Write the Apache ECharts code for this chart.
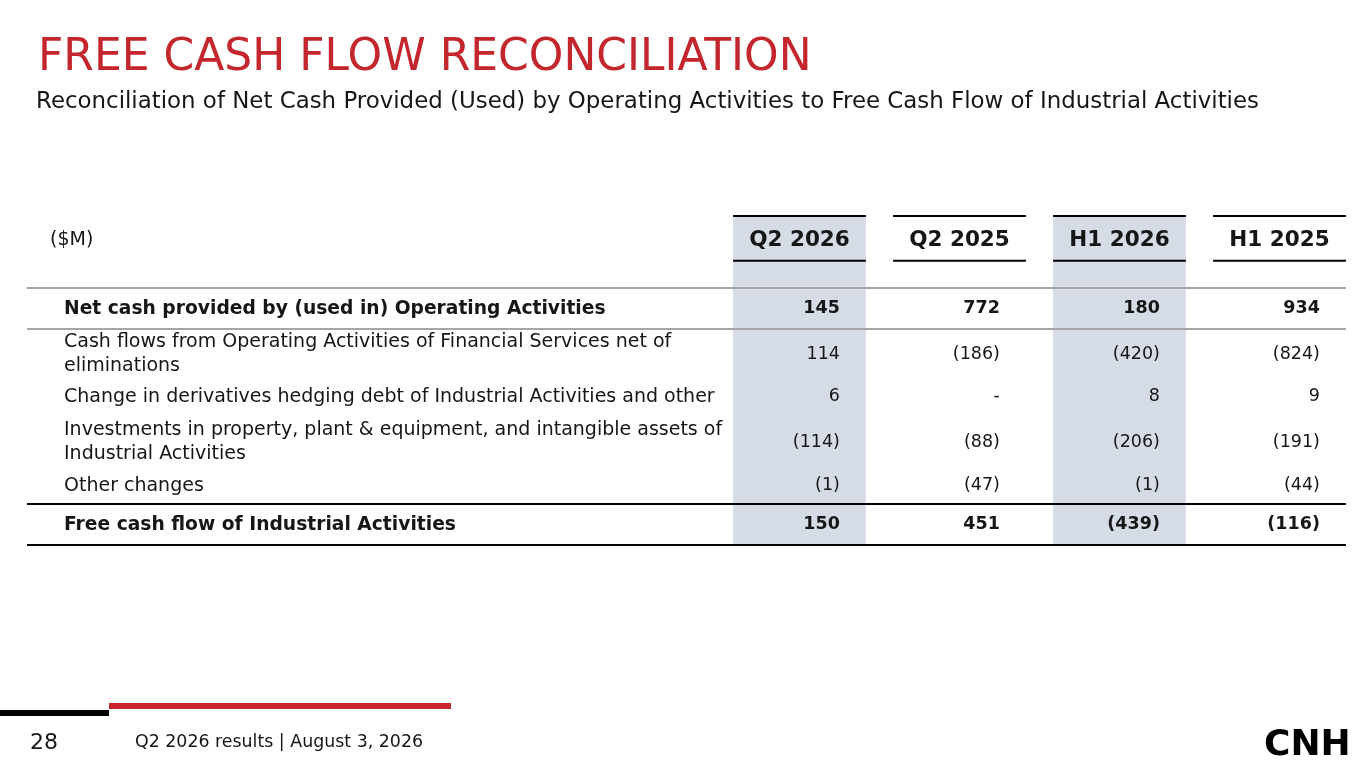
<!DOCTYPE html>
<html>
<head>
<meta charset="utf-8">
<script src="https://cdn.jsdelivr.net/npm/echarts@6/dist/echarts.min.js"></script>
<style>
  html, body { margin: 0; padding: 0; background: #fff; }
  #chart-container { width: 1365px; height: 768px; }
</style>
</head>
<body>
<div id="chart-container"></div>
<script>
// Table data
var columns = ['Q2 2026', 'Q2 2025', 'H1 2026', 'H1 2025'];
var shadedColumns = ['Q2 2026', 'H1 2026'];
var rowLabels = [
	'Net cash provided by (used in) Operating Activities',
	'Cash flows from Operating Activities of Financial Services net of\neliminations',
	'Change in derivatives hedging debt of Industrial Activities and other',
	'Investments in property, plant & equipment, and intangible assets of\nIndustrial Activities',
	'Other changes',
	'Free cash flow of Industrial Activities'
];
var q2_2026 = [145, 114, 6, -114, -1, 150];
var q2_2025 = [772, -186, null, -88, -47, 451];
var h1_2026 = [180, -420, 8, -206, -1, -439];
var h1_2025 = [934, -824, 9, -191, -44, -116];
var values = [q2_2026, q2_2025, h1_2026, h1_2025];

// Layout (axis units, y grows downward)
var HEADER_TOP = -2.13;
var HEADER_BOTTOM = -1.09;
var HEADER_MID = -1.56;
var TABLE_BOTTOM = 5.5;
var ROW_POS = [0.02, 1.07, 2.06, 3.12, 4.13, 5.03];
var ROW_LINES = [[-0.46, '#a6a6a6'], [0.49, '#a6a6a6'], [4.55, '#000'], [5.5, '#000']];
var boldRows = [0, 5];

var FONT = '"DejaVu Sans", Verdana, sans-serif';
var TEXT_COLOR = '#161616';
var RED = '#c4262e';

function fmt(v) {
	if (v === null || v === undefined) return '-';
	return v < 0 ? '(' + Math.abs(v) + ')' : String(v);
}

var dom = document.getElementById('chart-container');
var myChart = echarts.init(dom, null, { renderer: 'canvas' });

function colBox(api, j) {
	var c = api.coord([j, 0]);
	var w = api.size([1, 0])[0] * 0.83;
	return { cx: c[0], left: c[0] - w / 2, right: c[0] + w / 2, w: w };
}

var option = {
	animation: false,
	grid: { left: 719.5, width: 640, top: 216, height: 329 },
	xAxis: { type: 'category', data: columns, show: false },
	yAxis: { type: 'value', inverse: true, min: HEADER_TOP, max: TABLE_BOTTOM, show: false },
	graphic: [
		{ type: 'text', left: 38, top: 37, style: { text: 'FREE CASH FLOW RECONCILIATION', fill: RED, font: 'normal 44px ' + FONT } },
		{ type: 'text', left: 36, top: 91, style: { text: 'Reconciliation of Net Cash Provided (Used) by Operating Activities to Free Cash Flow of Industrial Activities', fill: TEXT_COLOR, font: 'normal 22.9px ' + FONT } },
		{ type: 'text', left: 50, top: 231, style: { text: '($M)', fill: TEXT_COLOR, font: 'normal 19px ' + FONT } },
		{ type: 'rect', shape: { x: 0, y: 710, width: 109, height: 6 }, style: { fill: '#000' } },
		{ type: 'rect', shape: { x: 109, y: 703, width: 342, height: 6 }, style: { fill: '#c8262c' } },
		{ type: 'text', left: 30, top: 732, style: { text: '28', fill: TEXT_COLOR, font: 'normal 22px ' + FONT } },
		{ type: 'text', left: 135, top: 734, style: { text: 'Q2 2026 results | August 3, 2026', fill: TEXT_COLOR, font: 'normal 17.4px ' + FONT } },
		{ type: 'text', left: 1264, top: 728, style: { text: 'CNH', fill: '#000', font: '900 36px ' + FONT } }
	],
	series: [
		{
			// shaded columns
			type: 'custom',
			silent: true,
			data: shadedColumns.map(function (c) { return [columns.indexOf(c)]; }),
			encode: { x: 0 },
			renderItem: function (params, api) {
				var b = colBox(api, api.value(0));
				var y0 = api.coord([0, HEADER_TOP])[1];
				var y1 = api.coord([0, TABLE_BOTTOM])[1];
				return { type: 'rect', shape: { x: b.left, y: y0, width: b.w, height: y1 - y0 }, style: { fill: '#d6dce5' } };
			},
			z: 1
		},
		{
			// column headers
			type: 'custom',
			silent: true,
			data: columns.map(function (c, j) { return [j]; }),
			encode: { x: 0 },
			renderItem: function (params, api) {
				var j = api.value(0);
				var b = colBox(api, j);
				var yt = api.coord([0, HEADER_TOP])[1];
				var yb = api.coord([0, HEADER_BOTTOM])[1];
				var ym = api.coord([0, HEADER_MID])[1];
				return {
					type: 'group',
					children: [
						{ type: 'line', shape: { x1: b.left, y1: yt, x2: b.right, y2: yt }, style: { stroke: '#000', lineWidth: 2 } },
						{ type: 'line', shape: { x1: b.left, y1: yb, x2: b.right, y2: yb }, style: { stroke: '#000', lineWidth: 2 } },
						{ type: 'text', style: { x: b.cx, y: ym, text: columns[j], fill: TEXT_COLOR, font: 'bold 21.5px ' + FONT, align: 'center', verticalAlign: 'middle' } }
					]
				};
			},
			z: 3
		},
		{
			// horizontal rules across the table
			type: 'custom',
			silent: true,
			data: ROW_LINES.map(function (l) { return [0, l[0]]; }),
			encode: { x: 0, y: 1 },
			renderItem: function (params, api) {
				var yy = api.coord([0, api.value(1)])[1];
				var last = colBox(api, columns.length - 1);
				return { type: 'line', shape: { x1: 27, y1: yy, x2: last.right, y2: yy }, style: { stroke: ROW_LINES[params.dataIndex][1], lineWidth: 2 } };
			},
			z: 2
		},
		{
			// table rows
			type: 'custom',
			silent: true,
			data: rowLabels.map(function (l, i) { return [0, ROW_POS[i]]; }),
			encode: { x: 0, y: 1 },
			renderItem: function (params, api) {
				var i = params.dataIndex;
				var y = api.coord([0, api.value(1)])[1];
				var bold = boldRows.indexOf(i) >= 0;
				var labelFont = bold ? 'bold 18.7px ' + FONT : 'normal 19px ' + FONT;
				var valueFont = (bold ? 'bold ' : 'normal ') + '17.5px ' + FONT;
				var children = [
					{ type: 'text', style: { x: 64, y: y, text: rowLabels[i], fill: TEXT_COLOR, font: labelFont, align: 'left', verticalAlign: 'middle', lineHeight: 24 } }
				];
				for (var j = 0; j < columns.length; j++) {
					var b = colBox(api, j);
					children.push({ type: 'text', style: { x: b.right - 26, y: y, text: fmt(values[j][i]), fill: TEXT_COLOR, font: valueFont, align: 'right', verticalAlign: 'middle' } });
				}
				return { type: 'group', children: children };
			},
			z: 3
		}
	]
};

myChart.setOption(option);
window.addEventListener('resize', myChart.resize);
</script>
</body>
</html>
